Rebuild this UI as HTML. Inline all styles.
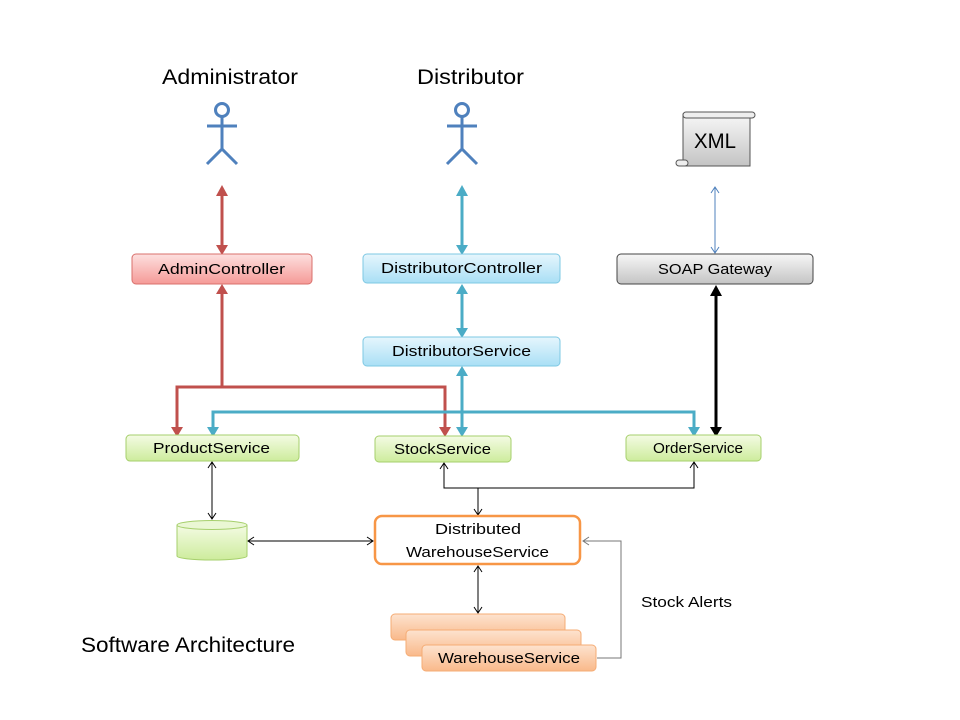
<!DOCTYPE html>
<html><head><meta charset="utf-8"><style>
html,body{margin:0;padding:0;background:#fff;width:960px;height:720px;overflow:hidden}
svg{display:block;font-family:"Liberation Sans",sans-serif}
</style></head><body>
<svg width="960" height="720" viewBox="0 0 960 720" xmlns="http://www.w3.org/2000/svg">
<defs>
<linearGradient id="gRed" x1="0" y1="0" x2="0" y2="1"><stop offset="0" stop-color="#fde0df"/><stop offset="1" stop-color="#f59a97"/></linearGradient>
<linearGradient id="gBlue" x1="0" y1="0" x2="0" y2="1"><stop offset="0" stop-color="#e6f6fd"/><stop offset="1" stop-color="#a9dff5"/></linearGradient>
<linearGradient id="gGrey" x1="0" y1="0" x2="0" y2="1"><stop offset="0" stop-color="#f7f7f7"/><stop offset="1" stop-color="#c4c4c4"/></linearGradient>
<linearGradient id="gGreen" x1="0" y1="0" x2="0" y2="1"><stop offset="0" stop-color="#f4fbe4"/><stop offset="1" stop-color="#cdec9c"/></linearGradient>
<linearGradient id="gOr" x1="0" y1="0" x2="0" y2="1"><stop offset="0" stop-color="#fde3cf"/><stop offset="1" stop-color="#f9b98a"/></linearGradient>
</defs>

<text x="162" y="84" font-size="21" textLength="136" lengthAdjust="spacingAndGlyphs">Administrator</text>
<text x="417" y="84" font-size="21" textLength="107" lengthAdjust="spacingAndGlyphs">Distributor</text>
<g stroke="#4f81bd" stroke-width="3" fill="none">
<circle cx="222" cy="110" r="6.5"/><path d="M222 117V149M207 126H237M207 164L222 149L237 164"/>
<circle cx="462" cy="110" r="6.5"/><path d="M462 117V149M447 126H477M447 164L462 149L477 164"/>
</g>

<g>
<rect x="683" y="114" width="67" height="52" fill="url(#gGrey)" stroke="#555" stroke-width="1"/>
<rect x="683" y="112" width="72" height="6" rx="3" fill="#eee" stroke="#555" stroke-width="1"/>
<rect x="676" y="160" width="12" height="6" rx="3" fill="#eee" stroke="#555" stroke-width="1"/>
<text x="694" y="148" font-size="21" textLength="42" lengthAdjust="spacingAndGlyphs">XML</text>
</g>

<g stroke="#c0504d" stroke-width="3" fill="none">
<path d="M222 192V248"/><path d="M222 290V387M177 430V387H445V430"/>
</g>
<g fill="#c0504d">
<path d="M216 196L222 185L228 196Z"/><path d="M216 245L222 255L228 245Z"/>
<path d="M216 294L222 284L228 294Z"/>
<path d="M171 427L177 437L183 427Z"/><path d="M439 427L445 437L451 427Z"/>
</g>
<g stroke="#4bacc6" stroke-width="3" fill="none">
<path d="M462 192V248"/><path d="M462 290V331"/><path d="M462 372V430"/>
<path d="M213 430V412H694V430"/>
</g>
<g fill="#4bacc6">
<path d="M456 196L462 185L468 196Z"/><path d="M456 245L462 255L468 245Z"/>
<path d="M456 294L462 284L468 294Z"/><path d="M456 328L462 338L468 328Z"/>
<path d="M456 376L462 366L468 376Z"/><path d="M456 427L462 437L468 427Z"/>
<path d="M207 427L213 437L219 427Z"/><path d="M688 427L694 437L700 427Z"/>
</g>
<path d="M716 292V430" stroke="#000" stroke-width="3"/>
<path d="M710 296L716 285L722 296Z M710 427L716 437L722 427Z" fill="#000"/>
<g stroke="#4f81bd" stroke-width="1" fill="none">
<path d="M715 187V253M711 193L715 187L719 193M711 247L715 253L719 247"/>
</g>

<g stroke="#000" stroke-width="1" fill="none">
<path d="M212 462V519M208 468L212 462L216 468M208 513L212 519L216 513"/>
<path d="M444 463V488H694V462M440 469L444 463L448 469M690 468L694 462L698 468"/>
<path d="M478 488V515M474 509L478 515L482 509"/>
<path d="M248 541H373M254 537L248 541L254 545M367 537L373 541L367 545"/>
<path d="M478 566V613M474 572L478 566L482 572M474 607L478 613L482 607"/>
</g>
<g stroke="#777" stroke-width="1" fill="none">
<path d="M597 658H621V541H583M589 537L583 541L589 545"/>
</g>

<rect x="132" y="254" width="180" height="30" rx="4" fill="url(#gRed)" stroke="#d9706c"/>
<text x="158" y="274" font-size="15" textLength="127" lengthAdjust="spacingAndGlyphs">AdminController</text>
<rect x="363" y="254" width="197" height="29" rx="4" fill="url(#gBlue)" stroke="#7ec8e3"/>
<text x="381" y="273" font-size="15" textLength="161" lengthAdjust="spacingAndGlyphs">DistributorController</text>
<rect x="363" y="337" width="197" height="29" rx="4" fill="url(#gBlue)" stroke="#7ec8e3"/>
<text x="392" y="356" font-size="15" textLength="139" lengthAdjust="spacingAndGlyphs">DistributorService</text>
<rect x="617" y="254" width="196" height="30" rx="4" fill="url(#gGrey)" stroke="#444"/>
<text x="658" y="274" font-size="15" textLength="114" lengthAdjust="spacingAndGlyphs">SOAP Gateway</text>

<rect x="126" y="435" width="173" height="26" rx="4" fill="url(#gGreen)" stroke="#a6cf6c"/>
<text x="153" y="453" font-size="15" textLength="117" lengthAdjust="spacingAndGlyphs">ProductService</text>
<rect x="375" y="436" width="136" height="26" rx="4" fill="url(#gGreen)" stroke="#a6cf6c"/>
<text x="394" y="454" font-size="15" textLength="97" lengthAdjust="spacingAndGlyphs">StockService</text>
<rect x="626" y="435" width="135" height="26" rx="4" fill="url(#gGreen)" stroke="#a6cf6c"/>
<text x="653" y="453" font-size="15" textLength="90" lengthAdjust="spacingAndGlyphs">OrderService</text>

<path d="M177 525V556A35 4 0 0 0 247 556V525" fill="url(#gGreen)" stroke="#a6cf6c"/>
<ellipse cx="212" cy="525" rx="35" ry="4.5" fill="#eaf7d4" stroke="#a6cf6c"/>

<rect x="375" y="516" width="205" height="48" rx="7" fill="#fff" stroke="#f79646" stroke-width="2.5"/>
<text x="435" y="534" font-size="15" textLength="86" lengthAdjust="spacingAndGlyphs">Distributed</text>
<text x="406" y="557" font-size="15" textLength="143" lengthAdjust="spacingAndGlyphs">WarehouseService</text>

<rect x="391" y="614" width="174" height="26" rx="4" fill="url(#gOr)" stroke="#f5ac75"/>
<rect x="406" y="630" width="175" height="26" rx="4" fill="url(#gOr)" stroke="#f5ac75"/>
<rect x="422" y="645" width="174" height="26" rx="4" fill="url(#gOr)" stroke="#f5ac75"/>
<text x="438" y="663" font-size="15" textLength="142" lengthAdjust="spacingAndGlyphs">WarehouseService</text>

<text x="641" y="607" font-size="15" textLength="91" lengthAdjust="spacingAndGlyphs">Stock Alerts</text>
<text x="81" y="652" font-size="21" textLength="214" lengthAdjust="spacingAndGlyphs">Software Architecture</text>
</svg>
</body></html>
